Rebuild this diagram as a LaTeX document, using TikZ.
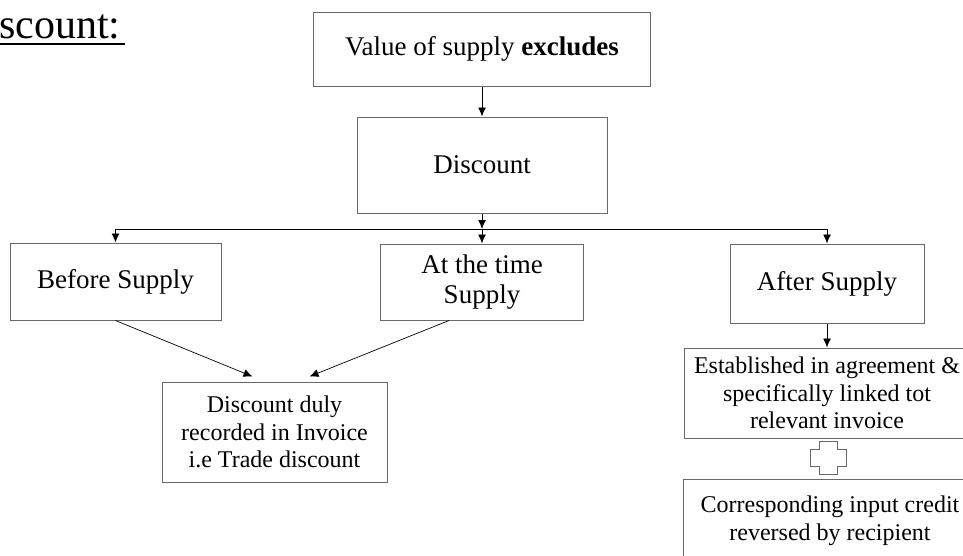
\documentclass[tikz,border=0pt]{standalone}
\usepackage{fontspec}
\setmainfont{Liberation Serif}
\usetikzlibrary{arrows.meta}

\definecolor{boxgray}{RGB}{105,105,105}

\begin{document}
\begin{tikzpicture}[x=1pt,y=-1pt,
	box/.style={draw=boxgray,line width=1pt,align=center,inner sep=0pt,font=\fontsize{27}{30}\selectfont},
	smallbox/.style={box,font=\fontsize{24}{27.5}\selectfont},
	arr/.style={-{Latex[length=9pt,width=8pt]},line width=0.9pt},
	thinarr/.style={arr,line width=0.7pt}]
	\useasboundingbox (0,0) rectangle (963,555);
	\clip (0,0) rectangle (963,555);

	\node[anchor=base west,inner sep=0pt,font=\fontsize{42}{48}\selectfont] (title) at (-1,38) {scount:};
	\draw[line width=2.5pt] ([yshift=-6pt]title.base west) -- ([xshift=4pt,yshift=-6pt]title.base east);

	\node[box,minimum width=337pt,minimum height=74pt] (value) at (482,49) {Value of supply \textbf{excludes}};
	\node[box,minimum width=250pt,minimum height=96pt] (disc) at (482,165) {Discount};

	\node[box,minimum width=211pt,minimum height=77pt] (before) at (115.5,281.5) {Before Supply};
	\node[box,minimum width=203pt,minimum height=76pt] (attime) at (482,282) {At the time\\Supply};
	\node[box,minimum width=194pt,minimum height=79pt] (after) at (827,283.5) {After Supply};

	\node[smallbox,minimum width=225pt,minimum height=100pt] (duly) at (274.5,432) {Discount duly\\recorded in Invoice\\i.e Trade discount};
	\node[smallbox,minimum width=286pt,minimum height=90pt] (agree) at (827,393) {Established in agreement \&\\specifically linked tot\\relevant invoice};
	\node[smallbox,minimum width=294pt,minimum height=84pt] (recip) at (830,521) {Corresponding input credit\\reversed by recipient};

	% branch line
	\coordinate (bar) at (0,229);
	\draw[arr] (value) -- (disc);
	\draw[arr] (disc) -- (disc.south |- bar);
	\draw[line width=0.9pt] (before.north |- bar) -- (after.north |- bar);
	\draw[arr] (before.north |- bar) -- (before);
	\draw[arr] (attime.north |- bar) -- (attime);
	\draw[arr] (after.north |- bar) -- (after);

	\draw[thinarr] (before.south) -- ([xshift=-22pt,yshift=5pt]duly.north);
	\draw[thinarr] ([xshift=-33pt]attime.south) -- ([xshift=35pt,yshift=5pt]duly.north);
	\draw[arr] (after) -- (agree);

	% plus sign
	\coordinate (plus) at (828,458);
	\draw[draw=boxgray,line width=1pt,shift={(plus)}] (-9,-16.5) -- (9,-16.5) -- (9,-8.5) -- (18,-8.5) -- (18,8.5) -- (9,8.5) -- (9,16.5) -- (-9,16.5) -- (-9,8.5) -- (-18,8.5) -- (-18,-8.5) -- (-9,-8.5) -- cycle;
\end{tikzpicture}
\end{document}
